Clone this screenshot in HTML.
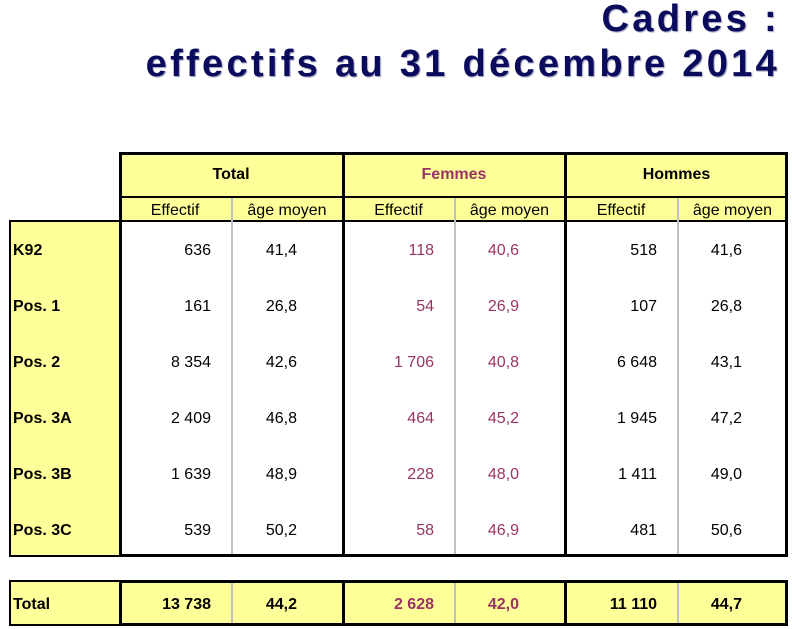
<!DOCTYPE html>
<html><head><meta charset="utf-8">
<style>
body{margin:0;width:792px;height:629px;background:#fff;position:relative;overflow:hidden;font-family:"Liberation Sans",Arial,sans-serif;}
.t{position:absolute;right:12px;font-weight:bold;font-size:38px;color:#0b0b5e;text-shadow:1px 1px 1px #9a9ab8;white-space:nowrap;letter-spacing:3.3px;}
.box{position:absolute;box-sizing:border-box;}
.c{position:absolute;font-size:16px;color:#000;white-space:nowrap;}
.f{color:#993366;}
.b{font-weight:bold;}
.vl{position:absolute;background:#c0c0c0;width:2px;}
.tv{position:absolute;background:#000;width:3px;}
</style></head>
<body>
<div class="t" style="top:-2px;">Cadres :</div>
<div class="t" style="top:43px;">effectifs au 31 décembre 2014</div>

<div class="box" style="left:119px;top:152px;width:669px;height:69px;background:#ffff99;"></div>
<div class="box" style="left:9px;top:220px;width:112px;height:337px;background:#ffff99;border:2px solid #000;border-right:none;"></div>
<div class="box" style="left:119px;top:152px;width:669px;height:405px;border:3px solid #000;"></div>
<div class="box" style="left:119px;top:196px;width:669px;height:2px;background:#000;"></div>
<div class="box" style="left:119px;top:220px;width:669px;height:2px;background:#000;"></div>

<div class="box" style="left:9px;top:580px;width:112px;height:46px;background:#ffff99;border:2px solid #000;border-right:none;"></div>
<div class="box" style="left:119px;top:580px;width:669px;height:46px;background:#ffff99;border:3px solid #000;"></div>

<div id="lines"></div>
<div class="c b" style="left:119px;width:224px;text-align:center;top:166px;">Total</div>
<div class="c b f" style="left:343px;width:222px;text-align:center;top:166px;">Femmes</div>
<div class="c b" style="left:565px;width:223px;text-align:center;top:166px;">Hommes</div>
<div id="cells"></div>

<script>
const rowLabels=["K92","Pos. 1","Pos. 2","Pos. 3A","Pos. 3B","Pos. 3C"];
const totalEff=["636","161","8 354","2 409","1 639","539"];
const totalAge=["41,4","26,8","42,6","46,8","48,9","50,2"];
const femEff=["118","54","1 706","464","228","58"];
const femAge=["40,6","26,9","40,8","45,2","48,0","46,9"];
const homEff=["518","107","6 648","1 945","1 411","481"];
const homAge=["41,6","26,8","43,1","47,2","49,0","50,6"];
const totalsRow=["13 738","44,2","2 628","42,0","11 110","44,7"];

const colL=[119,231,343,454,565,677];
const colR=[231,343,454,565,677,788];
const L=document.getElementById('lines'), C=document.getElementById('cells');
function line(cls,x,y,h,name){
 const d=document.createElement('div');d.className=cls;
 d.style.left=x+'px';d.style.top=y+'px';d.style.height=h+'px';
 
 
 L.appendChild(d);}
[231,454,677].forEach(x=>{line('vl',x,198,356,'column-divider');line('vl',x,583,40,'total-column-divider');});
[342,564].forEach(x=>{line('tv',x,152,405,'group-divider');line('tv',x,580,46,'total-group-divider');});
function cell(text,ci,y,cls,name){
 const d=document.createElement('div');d.className='c '+cls;
 const pr=(ci%2===0)?20:46;
 d.style.left=colL[ci]+'px';d.style.width=(colR[ci]-colL[ci]-pr)+'px';d.style.textAlign='right';
 d.style.top=y+'px';d.textContent=text;
 
 
 C.appendChild(d);}
const subs=["Effectif","âge moyen","Effectif","âge moyen","Effectif","âge moyen"];
subs.forEach((s,i)=>{const d=document.createElement('div');d.className='c';
 d.style.left=colL[i]+'px';d.style.width=(colR[i]-colL[i])+'px';d.style.textAlign='center';d.style.top='202px';d.textContent=s;
 
 
 C.appendChild(d);});
const cols=[totalEff,totalAge,femEff,femAge,homEff,homAge];
rowLabels.forEach((lab,r)=>{
 const y=242+r*56;
 const d=document.createElement('div');d.className='c b';d.style.left='13px';d.style.top=y+'px';d.textContent=lab;
 
 
 C.appendChild(d);
 cols.forEach((arr,ci)=>cell(arr[r],ci,y,(ci===2||ci===3)?'f':'','table-cell'));
});
const td=document.createElement('div');td.className='c b';td.style.left='13px';td.style.top='596px';td.textContent='Total';


C.appendChild(td);
totalsRow.forEach((v,ci)=>cell(v,ci,596,'b'+((ci===2||ci===3)?' f':''),'total-cell'));
</script>
</body></html>
